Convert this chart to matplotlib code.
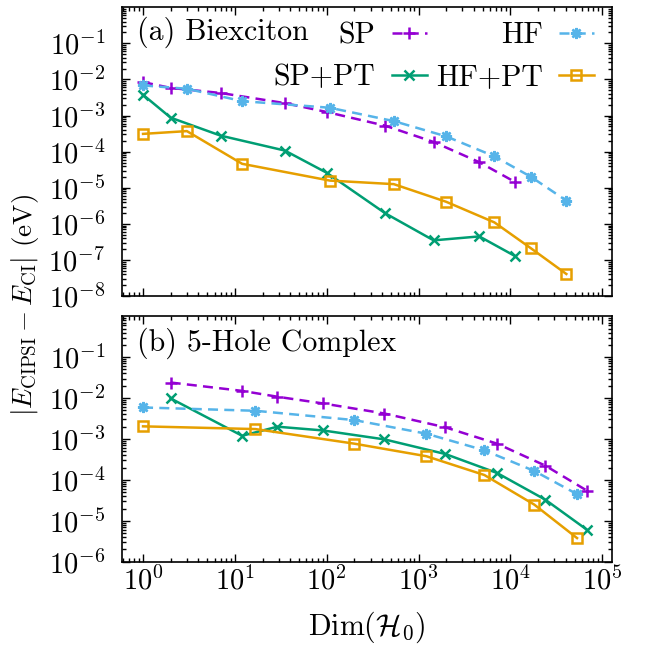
import matplotlib
matplotlib.use("Agg")
import matplotlib.pyplot as plt
import numpy as np
from matplotlib.ticker import LogLocator, NullFormatter

plt.rcParams["font.family"] = "cmr10"
plt.rcParams["mathtext.fontset"] = "cm"
plt.rcParams["axes.formatter.use_mathtext"] = True

# (a) Biexciton
a_sp_x = [1, 2, 7, 35, 100, 436, 1460, 4590, 11150]
a_sp_y = [8.4e-3, 5.8e-3, 4.2e-3, 2.2e-3, 1.25e-3, 5.2e-4, 1.85e-4, 5.1e-5, 1.46e-5]
a_sppt_y = [3.75e-3, 8.7e-4, 2.77e-4, 1.07e-4, 2.6e-5, 1.95e-6, 3.5e-7, 4.5e-7, 1.3e-7]
a_hf_x = [1, 3, 12, 108, 537, 1995, 6700, 16800, 40700]
a_hf_y = [6.8e-3, 5.5e-3, 2.5e-3, 1.64e-3, 7.0e-4, 2.65e-4, 7.4e-5, 2.0e-5, 4.4e-6]
a_hfpt_y = [3.1e-4, 3.7e-4, 4.6e-5, 1.58e-5, 1.26e-5, 4.1e-6, 1.1e-6, 2.1e-7, 4.1e-8]

# (b) 5-Hole Complex
b_sp_x = [2, 12, 29, 91, 425, 1960, 7160, 24000, 68000]
b_sp_y = [2.4e-2, 1.5e-2, 1.08e-2, 7.4e-3, 4.2e-3, 1.93e-3, 7.7e-4, 2.24e-4, 5.5e-5]
b_sppt_y = [9.8e-3, 1.2e-3, 2.0e-3, 1.62e-3, 9.8e-4, 4.3e-4, 1.48e-4, 3.3e-5, 6.1e-6]
b_hf_x = [1, 16.7, 200, 1217, 5210, 18200, 53200]
b_hf_y = [5.9e-3, 4.9e-3, 2.9e-3, 1.35e-3, 5.3e-4, 1.66e-4, 4.5e-5]
b_hfpt_y = [2.04e-3, 1.75e-3, 7.7e-4, 3.8e-4, 1.32e-4, 2.5e-5, 3.8e-6]

c_sp = "#9400d3"
c_sppt = "#009e73"
c_hf = "#56b4e9"
c_hfpt = "#e69f00"
lw = 1.8
dash = (0, (4, 2.5))
fs = 21.5

fig = plt.figure(figsize=(6.56, 6.48), dpi=100)
ax1 = fig.add_axes([0.186, 0.543, 0.747, 0.446])
ax2 = fig.add_axes([0.186, 0.133, 0.747, 0.379])


def draw(ax, sp_x, sp_y, sppt_y, hf_x, hf_y, hfpt_y):
    ax.plot(sp_x, sp_y, color=c_sp, ls=dash, lw=lw, marker="+", ms=9, mew=lw, label="SP")
    ax.plot(sp_x, sppt_y, color=c_sppt, lw=lw, marker="x", ms=7, mew=lw, label="SP+PT")
    ax.plot(hf_x, hf_y, color=c_hf, ls=dash, lw=lw, marker=(8, 2, 0), ms=8, mew=lw, label="HF")
    ax.plot(hf_x, hfpt_y, color=c_hfpt, lw=lw, marker="s", ms=7, mew=lw, mfc="none", label="HF+PT")
    ax.set_xscale("log")
    ax.set_yscale("log")
    ax.set_xlim(0.59, 1.28e5)
    ax.xaxis.set_major_locator(LogLocator(base=10, numticks=20))
    ax.xaxis.set_minor_locator(LogLocator(base=10, subs=np.arange(2, 10), numticks=20))
    ax.yaxis.set_minor_locator(LogLocator(base=10, subs=np.arange(2, 10), numticks=20))
    ax.yaxis.set_minor_formatter(NullFormatter())
    ax.xaxis.set_minor_formatter(NullFormatter())
    ax.tick_params(which="both", direction="in", top=True, right=True, labelsize=20.5, width=1)
    ax.tick_params(axis="y", which="major", pad=12)
    ax.tick_params(which="major", length=6)
    ax.tick_params(which="minor", length=3)
    for s in ax.spines.values():
        s.set_linewidth(1.2)


draw(ax1, a_sp_x, a_sp_y, a_sppt_y, a_hf_x, a_hf_y, a_hfpt_y)
draw(ax2, b_sp_x, b_sp_y, b_sppt_y, b_hf_x, b_hf_y, b_hfpt_y)

ax1.set_ylim(1e-8, 1)
ax1.set_yticks([10.0 ** -k for k in range(1, 9)])
ax1.tick_params(labelbottom=False)
ax2.set_ylim(1e-6, 1)
ax2.set_yticks([10.0 ** -k for k in range(1, 7)])

ax1.text(0.031, 0.913, "(a) Biexciton", transform=ax1.transAxes, fontsize=fs, va="center")
ax2.text(0.031, 0.89, "(b) 5-Hole Complex", transform=ax2.transAxes, fontsize=fs, va="center")

h, l = ax1.get_legend_handles_labels()
ax1.legend(h, l, ncol=2, loc="upper right", bbox_to_anchor=(0.963, 0.95), frameon=False,
           markerfirst=False, fontsize=fs, handlelength=1.17, handletextpad=0.55,
           columnspacing=0.3, labelspacing=0.5, borderpad=0, borderaxespad=0, numpoints=1)

ax2.set_xlabel(r"Dim$(\mathcal{H}_0)$", fontsize=fs, labelpad=10)
fig.text(0.038, 0.53, r"$|E_{\mathrm{CIPSI}} - E_{\mathrm{CI}}|$ (eV)", rotation=90,
         fontsize=19.5, ha="center", va="center")

fig.savefig("out.png", dpi=100)
